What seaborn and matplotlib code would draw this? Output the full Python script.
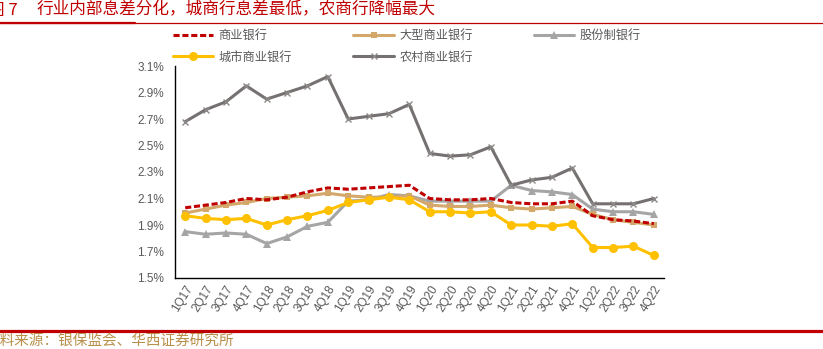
import matplotlib
matplotlib.use("Agg")
import matplotlib.pyplot as plt
import seaborn as sns
import pandas as pd
import numpy as np

quarters = ["1Q17","2Q17","3Q17","4Q17","1Q18","2Q18","3Q18","4Q18",
            "1Q19","2Q19","3Q19","4Q19","1Q20","2Q20","3Q20","4Q20",
            "1Q21","2Q21","3Q21","4Q21","1Q22","2Q22","3Q22","4Q22"]
commercial = [2.03,2.05,2.07,2.10,2.09,2.11,2.15,2.18,2.17,2.18,2.19,2.20,
              2.10,2.09,2.09,2.10,2.07,2.06,2.06,2.08,1.97,1.94,1.93,1.91]
large = [1.99,2.02,2.05,2.07,2.10,2.11,2.12,2.14,2.12,2.11,2.11,2.12,
         2.05,2.04,2.04,2.05,2.03,2.02,2.03,2.04,1.98,1.94,1.92,1.90]
joint = [1.85,1.83,1.84,1.83,1.76,1.81,1.89,1.92,2.08,2.09,2.13,2.12,
         2.08,2.08,2.08,2.08,2.20,2.16,2.15,2.13,2.02,2.00,2.00,1.98]
city = [1.97,1.95,1.94,1.95,1.90,1.94,1.97,2.01,2.07,2.09,2.11,2.09,
        2.00,2.00,1.99,2.00,1.90,1.90,1.89,1.91,1.73,1.73,1.74,1.67]
rural = [2.68,2.77,2.83,2.95,2.85,2.90,2.95,3.02,2.70,2.72,2.74,2.81,
         2.44,2.42,2.43,2.49,2.20,2.24,2.26,2.33,2.06,2.06,2.06,2.10]
names = ["商业银行","大型商业银行","股份制银行","城市商业银行","农村商业银行"]
title_num = "图 7"
title = "行业内部息差分化，城商行息差最低，农商行降幅最大"
source = "资料来源：银保监会、华西证券研究所"

df = pd.DataFrame({"idx": np.arange(len(quarters)), "q": quarters,
                   "c": commercial, "l": large, "j": joint, "ci": city, "r": rural})

sns.set_theme(style="white")
plt.rcParams['font.family'] = ['Noto Sans CJK SC', 'DejaVu Sans']

W, H = 823, 349
fig = plt.figure(figsize=(W/100, H/100), dpi=100)
ax = fig.add_axes([175/W, 1-278/H, (664-175)/W, (278-66)/H])

tick_font = {'family': ['Liberation Sans', 'DejaVu Sans'], 'size': 8.5}
grey_txt = '#595959'
c_red, c_tan, c_grey, c_yel, c_dark = "#C00000", "#D4A86A", "#A5A5A5", "#FFC000", "#767171"

sns.lineplot(data=df, x="idx", y="j", ax=ax, color=c_grey, lw=2.2,
             marker="^", markersize=6, markeredgewidth=0, label=names[2], zorder=2)
sns.lineplot(data=df, x="idx", y="l", ax=ax, color=c_tan, lw=2.2,
             marker="s", markersize=5, markeredgewidth=0, label=names[1], zorder=3)
sns.lineplot(data=df, x="idx", y="ci", ax=ax, color=c_yel, lw=2.2,
             marker="o", markersize=6.5, markeredgewidth=0, label=names[3], zorder=4)
sns.lineplot(data=df, x="idx", y="r", ax=ax, color=c_dark, lw=2.2,
             marker="x", markersize=5, markeredgewidth=1.0, markeredgecolor="#8C8888",
             label=names[4], zorder=5)
sns.lineplot(data=df, x="idx", y="c", ax=ax, color=c_red, lw=2.2,
             label=names[0], zorder=6)

h, lab = ax.get_legend_handles_labels()
hd = dict(zip(lab, h))
for ln in ax.lines:
    if ln.get_label() == names[0]:
        ln.set_linestyle((0, (2.0, 0.9)))
hd[names[0]].set_linestyle((0, (2.0, 0.9)))

ax.set_xlim(-0.5, len(quarters) - 0.5)
ax.set_ylim(1.5, 3.1)
yt = np.arange(1.5, 3.11, 0.2)
ax.set_yticks(yt)
ax.set_yticklabels([f"{v:.1f}%" for v in yt], fontdict=tick_font, color=grey_txt)
ax.set_xticks(np.arange(len(quarters)))
ax.set_xticklabels(quarters, rotation=58, ha='right', va='top',
                   rotation_mode='anchor', fontdict=tick_font, color=grey_txt)
ax.set_xticks(np.arange(-0.5, len(quarters)), minor=True)
ax.tick_params(axis='x', which='major', length=0, pad=4)
ax.tick_params(axis='x', which='minor', length=4, direction='in', width=0.8, color='black')
ax.tick_params(axis='y', length=4, direction='in', width=0.8, color='black', pad=8)
ax.set_xlabel("")
ax.set_ylabel("")
for s in ['top', 'right']:
    ax.spines[s].set_visible(False)
for s in ['left', 'bottom']:
    ax.spines[s].set_color('black')
    ax.spines[s].set_linewidth(1.0)

order = [names[0], names[3], names[1], names[4], names[2]]
ax.legend([hd[n] for n in order], order, ncol=3, loc='upper left',
          bbox_to_anchor=(168/W, 1-24/H), bbox_transform=fig.transFigure,
          frameon=False, handlelength=3.3, columnspacing=5.0, labelspacing=0.72,
          handletextpad=0.45, prop={'family': ['Noto Sans CJK SC'], 'size': 8.8},
          labelcolor=grey_txt, borderaxespad=0)

fig.text(-12/W, 1-10/H, title_num, color=c_red, fontsize=12, va='center', ha='left')
fig.text(37/W, 1-10/H, title, color=c_red, fontsize=12, va='center', ha='left')
fig.add_artist(plt.Line2D([0, 1], [1-22.5/H, 1-22.5/H], color=c_red, lw=0.9,
                          transform=fig.transFigure))
fig.add_artist(plt.Line2D([0, 135/W], [1-22.5/H, 1-22.5/H], color=c_red, lw=1.6,
                          transform=fig.transFigure))
fig.add_artist(plt.Line2D([0, 1], [1-330.5/H, 1-330.5/H], color=c_red, lw=2.3,
                          transform=fig.transFigure))
fig.text(-15/W, 1-341/H, source, color="#B8904A", fontsize=10.5, va='center', ha='left')

fig.savefig("out.png", dpi=100)
